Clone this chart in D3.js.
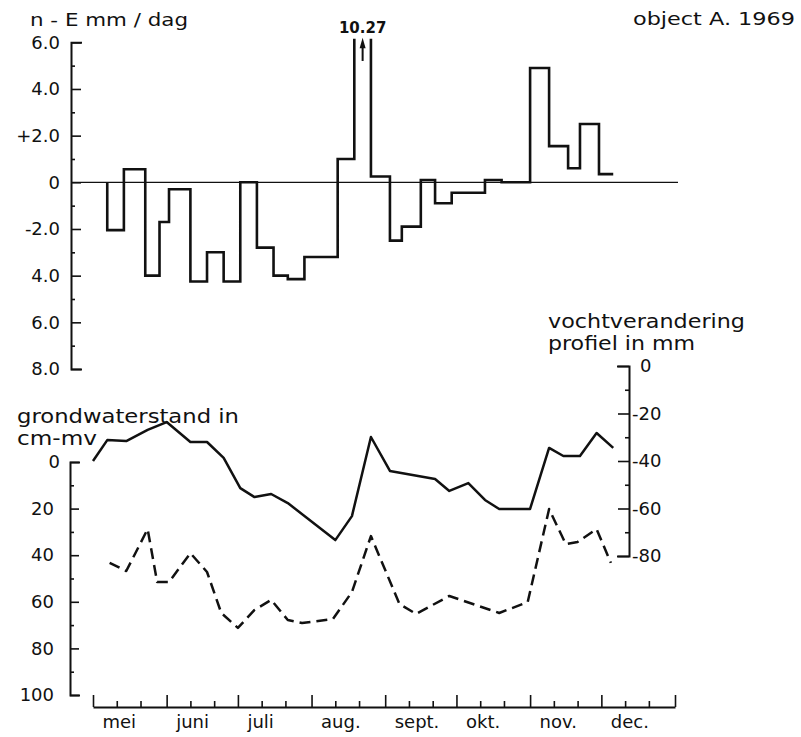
<!DOCTYPE html>
<html>
<head>
<meta charset="utf-8">
<script src="https://cdn.jsdelivr.net/npm/d3@7"></script>
<style>
  body { margin: 0; background: #fff; }
  svg { display: block; }
  text { font-family: "DejaVu Sans", sans-serif; fill: #111; }
</style>
</head>
<body>
<svg id="chart" width="801" height="737"></svg>
<script>
// ---- data (1969) ----
// n - E (precipitation minus evaporation), mm/day, per measuring period
const stepEdges = ["05-07","05-14","05-23","05-29","06-02","06-11","06-18","06-25","07-02","07-09",
  "07-16","07-22","07-29","08-12","08-19","08-26","09-03","09-08","09-16","09-22",
  "09-29","10-13","10-20","11-01","11-09","11-17","11-22","11-30","12-06"];
const stepValues = [-2.05, 0.56, -4.0, -1.7, -0.3, -4.25, -3.0, -4.25, 0.0, -2.8,
  -4.0, -4.15, -3.2, 1.0, 10.27, 0.25, -2.5, -1.9, 0.1, -0.9,
  -0.45, 0.1, 0.0, 4.9, 1.55, 0.6, 2.5, 0.35];

// change of soil moisture in the profile, mm (solid line)
const vochtDates = ["05-01","05-07","05-15","05-24","06-01","06-11","06-18","06-25","07-02","07-08",
  "07-15","07-22","08-11","08-18","08-26","09-03","09-22","09-28","10-06","10-13",
  "10-19","11-01","11-09","11-15","11-22","11-29","12-06"];
const vochtValues = [-40.0, -31.2, -31.6, -26.9, -23.6, -32.0, -32.0, -38.7, -51.4, -55.2,
  -53.9, -57.7, -73.3, -63.2, -29.9, -44.2, -47.6, -52.6, -49.3, -56.4,
  -60.2, -60.2, -34.5, -37.9, -37.9, -28.2, -34.5];

// groundwater level, cm below surface (dashed line)
const grondDates = ["05-08","05-15","05-24","05-28","06-02","06-11","06-18","06-24","07-01","07-08",
  "07-15","07-22","07-28","08-10","08-18","08-26","09-07","09-14","09-28","10-19",
  "10-31","11-09","11-16","11-21","11-29","12-05"];
const grondValues = [43.3, 46.8, 28.8, 51.5, 51.5, 39.1, 47.2, 64.8, 71.2, 63.5,
  59.2, 67.8, 69.1, 67.4, 55.8, 31.8, 60.9, 65.2, 57.5, 64.8,
  60.1, 20.2, 35.2, 34.3, 28.8, 43.3];

// axes
const monthStarts = ["1969-05-01","1969-06-01","1969-07-01","1969-08-01","1969-09-01",
  "1969-10-01","1969-11-01","1969-12-01","1970-01-01"];
const monthLabels = ["mei", "juni", "juli", "aug.", "sept.", "okt.", "nov.", "dec."];
const topTicks = [6, 4, 2, 0, -2, -4, -6, -8];
const topTickLabels = ["6.0", "4.0", "+2.0", "0", "-2.0", "4.0", "6.0", "8.0"];
const grondTicks = [0, 20, 40, 60, 80, 100];
const grondTickLabels = ["0", "20", "40", "60", "80", "100"];
const vochtTicks = [0, -20, -40, -60, -80];
const vochtTickLabels = ["0", "-20", "-40", "-60", "-80"];

// ---- setup ----
const ink = "#111";
const parseDay = d3.timeParse("%Y-%m-%d");
const day = s => parseDay("1969-" + s);
const svg = d3.select("#chart");

const x = d3.scaleTime()
  .domain([parseDay("1969-05-01"), parseDay("1970-01-01")])
  .range([93, 675]);
const yTop = d3.scaleLinear().domain([-8, 6]).range([369, 42.3]);
const yGrond = d3.scaleLinear().domain([0, 100]).range([462, 695]);
const yVocht = d3.scaleLinear().domain([0, -80]).range([366, 556]);

function styleAxis(g, width) {
  g.selectAll("path.domain").attr("stroke", ink).attr("stroke-width", width).attr("fill", "none");
  g.selectAll(".tick line").attr("stroke", ink).attr("stroke-width", 1.6);
  g.selectAll(".tick text").attr("font-size", 18).attr("fill", ink)
    .style("font-family", '"DejaVu Sans", sans-serif');
}

// ---- upper panel: n - E ----
const topX = 71;
const topAxis = svg.append("g").attr("transform", `translate(${topX},0)`)
  .call(d3.axisLeft(yTop).tickValues(topTicks)
    .tickSizeInner(-10).tickSizeOuter(-11).tickPadding(11)
    .tickFormat((d, i) => topTickLabels[i]));
styleAxis(topAxis, 2);
const topMinor = svg.append("g").attr("transform", `translate(${topX},0)`)
  .call(d3.axisLeft(yTop).tickValues(d3.range(-7, 6, 2)).tickSizeInner(-4).tickSizeOuter(0).tickFormat(""));
topMinor.select("path.domain").remove();
styleAxis(topMinor, 2);

// zero line
svg.append("line")
  .attr("x1", topX).attr("x2", x.range()[1] + 3)
  .attr("y1", yTop(0)).attr("y2", yTop(0))
  .attr("stroke", ink).attr("stroke-width", 1.3);

// step line, the very large value is cut off at the top of the scale
const cap = 6.15;
const steps = stepValues.map((v, i) => ({ x0: day(stepEdges[i]), x1: day(stepEdges[i + 1]), v }));
const sp = d3.path();
sp.moveTo(x(steps[0].x0), yTop(0));
steps.forEach(s => {
  const yy = yTop(Math.min(s.v, cap));
  sp.lineTo(x(s.x0), yy);
  if (s.v > cap) sp.moveTo(x(s.x1), yy); else sp.lineTo(x(s.x1), yy);
});
svg.append("path").attr("d", sp.toString())
  .attr("fill", "none").attr("stroke", ink).attr("stroke-width", 2.6)
  .attr("stroke-linejoin", "miter");

// arrow and value for the off-scale period
const big = steps.find(s => s.v > cap);
const mx = (x(big.x0) + x(big.x1)) / 2;
svg.append("line").attr("x1", mx).attr("x2", mx)
  .attr("y1", yTop(5.2)).attr("y2", yTop(5.9))
  .attr("stroke", ink).attr("stroke-width", 2);
svg.append("path")
  .attr("d", `M${mx},${yTop(6.2)}L${mx - 3},${yTop(5.75)}L${mx + 3},${yTop(5.75)}Z`)
  .attr("fill", ink);
svg.append("text").attr("x", mx).attr("y", 33)
  .attr("text-anchor", "middle").attr("font-size", 15).attr("font-weight", "bold")
  .text(d3.format(".2f")(big.v));

// titles upper panel
svg.append("text").attr("x", 30).attr("y", 26).attr("font-size", 18)
  .attr("textLength", 158).attr("lengthAdjust", "spacingAndGlyphs")
  .text("n - E  mm / dag");
svg.append("text").attr("x", 633).attr("y", 25).attr("font-size", 18)
  .attr("textLength", 162).attr("lengthAdjust", "spacingAndGlyphs")
  .text("object A. 1969");

// ---- lower panel ----
const grondX = 70;
const grondAxis = svg.append("g").attr("transform", `translate(${grondX},0)`)
  .call(d3.axisLeft(yGrond).tickValues(grondTicks)
    .tickSizeInner(-9).tickSizeOuter(-10).tickPadding(16)
    .tickFormat((d, i) => grondTickLabels[i]));
styleAxis(grondAxis, 2);
grondAxis.selectAll(".tick text").filter(d => d === 0).attr("x", -10);
const grondMinor = svg.append("g").attr("transform", `translate(${grondX},0)`)
  .call(d3.axisLeft(yGrond).tickValues(d3.range(10, 100, 20)).tickSizeInner(-4).tickSizeOuter(0).tickFormat(""));
grondMinor.select("path.domain").remove();
styleAxis(grondMinor, 2);

const vochtX = 629;
const vochtAxis = svg.append("g").attr("transform", `translate(${vochtX},0)`)
  .call(d3.axisRight(yVocht).tickValues(vochtTicks)
    .tickSizeInner(-11).tickSizeOuter(-12).tickPadding(3)
    .tickFormat((d, i) => vochtTickLabels[i]));
styleAxis(vochtAxis, 2);
vochtAxis.selectAll(".tick text").filter(d => d === 0).attr("x", 11);
const vochtMinor = svg.append("g").attr("transform", `translate(${vochtX},0)`)
  .call(d3.axisRight(yVocht).tickValues(d3.range(-10, -80, -20)).tickSizeInner(-4).tickSizeOuter(0).tickFormat(""));
vochtMinor.select("path.domain").remove();
styleAxis(vochtMinor, 2);

// solid: moisture change, dashed: groundwater level
const vocht = vochtDates.map((d, i) => ({ date: day(d), v: vochtValues[i] }));
const grond = grondDates.map((d, i) => ({ date: day(d), v: grondValues[i] }));
svg.append("path").datum(vocht)
  .attr("d", d3.line().x(d => x(d.date)).y(d => yVocht(d.v)))
  .attr("fill", "none").attr("stroke", ink).attr("stroke-width", 2.5).attr("stroke-linejoin", "round");
svg.append("path").datum(grond)
  .attr("d", d3.line().x(d => x(d.date)).y(d => yGrond(d.v)))
  .attr("fill", "none").attr("stroke", ink).attr("stroke-width", 2.5)
  .attr("stroke-dasharray", "11,6").attr("stroke-linejoin", "round");

// axis titles lower panel
svg.append("text").attr("x", 17).attr("y", 423).attr("font-size", 19)
  .attr("textLength", 222).attr("lengthAdjust", "spacingAndGlyphs").text("grondwaterstand in");
svg.append("text").attr("x", 17).attr("y", 445).attr("font-size", 19)
  .attr("textLength", 80).attr("lengthAdjust", "spacingAndGlyphs").text("cm-mv");
svg.append("text").attr("x", 548).attr("y", 328).attr("font-size", 19)
  .attr("textLength", 197).attr("lengthAdjust", "spacingAndGlyphs").text("vochtverandering");
svg.append("text").attr("x", 548).attr("y", 350).attr("font-size", 19)
  .attr("textLength", 147).attr("lengthAdjust", "spacingAndGlyphs").text("profiel in mm");

// ---- time axis ----
const xY = 707;
const months = monthStarts.map(parseDay);
const xAxis = svg.append("g").attr("transform", `translate(0,${xY})`)
  .call(d3.axisBottom(x).tickValues(months).tickSizeInner(-12).tickSizeOuter(0).tickFormat(""));
styleAxis(xAxis, 2);
const decades = [];
months.slice(0, -1).forEach(m => {
  decades.push(d3.timeDay.offset(m, 10), d3.timeDay.offset(m, 20));
});
const xMinor = svg.append("g").attr("transform", `translate(0,${xY})`)
  .call(d3.axisBottom(x).tickValues(decades).tickSizeInner(-6).tickSizeOuter(0).tickFormat(""));
xMinor.select("path.domain").remove();
styleAxis(xMinor, 2);

svg.append("g").selectAll("text").data(monthLabels).join("text")
  .attr("x", (d, i) => x(d3.timeDay.offset(months[i], 4)))
  .attr("y", 728).attr("font-size", 18)
  .text(d => d);
</script>
</body>
</html>
